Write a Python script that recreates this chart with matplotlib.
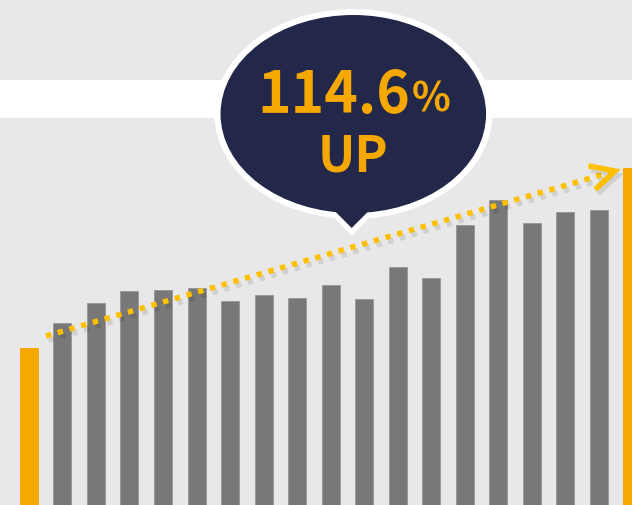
"""Trend bar chart with a '114.6% UP' speech bubble callout."""

from __future__ import annotations

import numpy as np
import matplotlib

matplotlib.use("Agg")
import matplotlib.pyplot as plt
import matplotlib.patheffects as pe
from matplotlib.patches import Ellipse, Polygon, Rectangle


# index values, first period = 100
PERIODS = list(range(19))
VALUES = [100.0, 115.7, 128.5, 136.1, 136.8, 138.4, 129.7, 134.0, 131.7, 139.9,
          131.4, 151.4, 144.4, 178.2, 194.3, 179.4, 186.6, 187.7, 214.6]
HIGHLIGHT = [0, 18]
CALLOUT_NUM = "114.6"
CALLOUT_UNIT = "%"
CALLOUT_WORD = "UP"

BG = "#e8e8e8"
GRAY = "#787878"
ORANGE = "#f5a800"
DOT = "#ffc000"
NAVY = "#23284a"

W, H = 632, 505


def draw_bars(fig: plt.Figure) -> None:
    ax = fig.add_axes([0, 0, 1, 1])
    ax.set_facecolor(BG)
    colors = [ORANGE if i in HIGHLIGHT else GRAY for i in PERIODS]
    edges = [ORANGE if i in HIGHLIGHT else "#9a9a9a" for i in PERIODS]
    ax.bar(PERIODS, VALUES, width=0.537, color=colors, edgecolor=edges, linewidth=0.7, zorder=2)
    ax.set_xlim(-0.862, 17.99)
    ax.set_ylim(0, 321.7)
    ax.axis("off")
    ax.add_patch(Rectangle((0, 0), 1, 1, transform=ax.transAxes, color=BG, zorder=0))
    # white band across the top
    ax.add_patch(Rectangle((0, 1 - 117.5 / H), 1, 37.5 / H, transform=ax.transAxes,
                           color="white", lw=0, zorder=1))


def draw_overlay(fig: plt.Figure) -> None:
    ov = fig.add_axes([0, 0, 1, 1])
    ov.set_xlim(0, W)
    ov.set_ylim(H, 0)
    ov.axis("off")
    ov.patch.set_alpha(0)

    # dotted trend arrow
    x0, y0 = 46, 336
    x1, y1 = 615, 171
    shadow = [pe.SimpleLineShadow(offset=(2, -3), shadow_color="k", alpha=0.1), pe.Normal()]
    ov.plot([x0, x1 - 6], [y0, y1 + 1.7], color=DOT, lw=3.9, linestyle=(0, (1, 1.25)),
            dash_capstyle="butt", path_effects=shadow, zorder=3)
    d = np.array([x0 - x1, y0 - y1], dtype=float)
    d /= np.hypot(*d)
    arms = []
    for ang in (np.radians(27), np.radians(-27)):
        c, s = np.cos(ang), np.sin(ang)
        r = np.array([c * d[0] - s * d[1], s * d[0] + c * d[1]])
        arms.append(np.array([x1, y1]) + 27 * r)
    ov.plot([arms[0][0], x1, arms[1][0]], [arms[0][1], y1, arms[1][1]], color=DOT, lw=3.9,
            solid_capstyle="butt", solid_joinstyle="miter", path_effects=shadow, zorder=3)

    # speech bubble
    cx, cy = 353.3, 114
    tip = 351.7
    ov.add_patch(Ellipse((cx, cy), 278, 210, color="white", lw=0, zorder=4))
    ov.add_patch(Polygon([[tip - 34, 200], [tip, 236], [tip + 34, 200]], color="white", lw=0, zorder=4))
    ov.add_patch(Ellipse((cx, cy), 265.5, 198, color=NAVY, lw=0, zorder=5))
    ov.add_patch(Polygon([[tip - 26, 202], [tip, 228], [tip + 26, 202]], color=NAVY, lw=0, zorder=5))

    font = ["Noto Sans CJK JP", "DejaVu Sans"]
    ov.text(410, 113.3, CALLOUT_NUM, ha="right", va="baseline", fontsize=41, fontweight="bold",
            color=ORANGE, family=font, zorder=6)
    ov.text(412, 111.7, CALLOUT_UNIT, ha="left", va="baseline", fontsize=29, fontweight="bold",
            color=ORANGE, family=font, zorder=6)
    ov.text(cx, 171.7, CALLOUT_WORD, ha="center", va="baseline", fontsize=36, fontweight="bold",
            color=ORANGE, family=font, zorder=6)


def main() -> None:
    fig = plt.figure(figsize=(W / 100, H / 100), dpi=100, facecolor=BG)
    draw_bars(fig)
    draw_overlay(fig)
    fig.savefig("out.png", dpi=100, facecolor=BG)
    plt.close(fig)


if __name__ == "__main__":
    main()
